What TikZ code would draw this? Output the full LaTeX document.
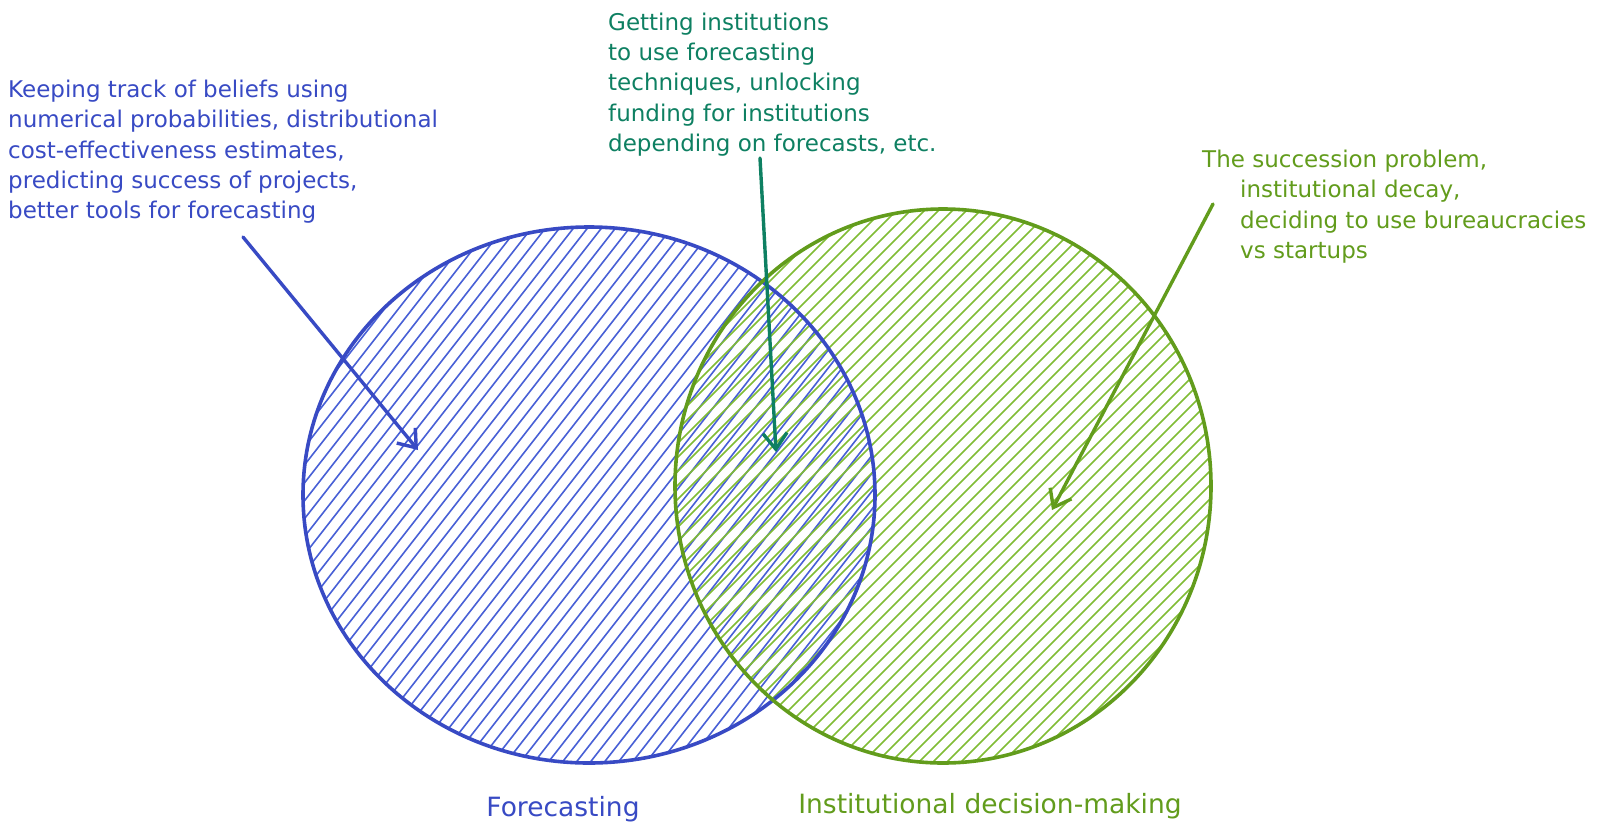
\documentclass[tikz,border=0pt]{standalone}
\usepackage{fontspec}
\setmainfont{DejaVu Sans}
\usetikzlibrary{arrows.meta,calc}
\definecolor{fblue}{RGB}{56,74,196}
\definecolor{fbluehatch}{RGB}{72,96,214}
\definecolor{igreen}{RGB}{98,156,28}
\definecolor{igreenhatch}{RGB}{128,188,52}
\definecolor{tealc}{RGB}{14,128,98}
\begin{document}
\begin{tikzpicture}[x=1pt,y=-1pt,
  outline/.style={line width=3.6pt},
  hatchline/.style={line width=1.6pt},
  callout/.style={line width=3.4pt, line cap=round, -{Straight Barb[length=16pt,width=24pt,line width=3.4pt]}},
  note/.style={anchor=north west, inner sep=0pt, align=left, font=\fontsize{23}{30.3}\selectfont},
  lbl/.style={anchor=base, inner sep=0pt, font=\fontsize{26.5}{30}\selectfont}]
\useasboundingbox[fill=white] (0,0) rectangle (1600,833);
\coordinate (fc) at (589,495);
\coordinate (ic) at (943,486);
% hatching of Forecasting
\begin{scope}
\clip (fc) ellipse [x radius=286pt, y radius=268pt];
\foreach \i in {-60,...,60}
  \draw[hatchline, fbluehatch] ($(fc)+(\i*14,0)+(-300,384)$) -- ($(fc)+(\i*14,0)+(300,-384)$);
\end{scope}
% hatching of Institutional decision-making
\begin{scope}
\clip (ic) ellipse [x radius=268pt, y radius=277pt];
\foreach \i in {-60,...,60}
  \draw[hatchline, igreenhatch] ($(ic)+(\i*14,0)+(-330,330)$) -- ($(ic)+(\i*14,0)+(330,-330)$);
\end{scope}
% outlines
\draw[outline, fblue] (fc) ellipse [x radius=286pt, y radius=268pt];
\draw[outline, igreen] (ic) ellipse [x radius=268pt, y radius=277pt];
% texts
\node[note, fblue] (bluetext) at (8,80) {Keeping track of beliefs using\\numerical probabilities, distributional\\cost-effectiveness estimates,\\predicting success of projects,\\better tools for forecasting};
\node[note, tealc] (tealtext) at (608,12.5) {Getting institutions\\to use forecasting\\techniques, unlocking\\funding for institutions\\depending on forecasts, etc.};
\node[note, igreen] (greentext) at (1202,150) {The succession problem,\\\hspace*{38pt}institutional decay,\\\hspace*{38pt}deciding to use bureaucracies\\\hspace*{38pt}vs startups};
\node[lbl, fblue] (lblF) at (563,816) {Forecasting};
\node[lbl, igreen] (lblI) at (990,813) {Institutional decision-making};
% callouts
\coordinate (bs) at (243,237);
\coordinate (be) at (418,450);
\coordinate (ts) at (760,158);
\coordinate (te) at (776,452);
\coordinate (gs) at (1213,204);
\coordinate (ge) at (1052,510);
\draw[callout, fblue] (bs) -- (be);
\draw[callout, tealc] (ts) -- (te);
\draw[callout, igreen] (gs) -- (ge);
\end{tikzpicture}
\end{document}
